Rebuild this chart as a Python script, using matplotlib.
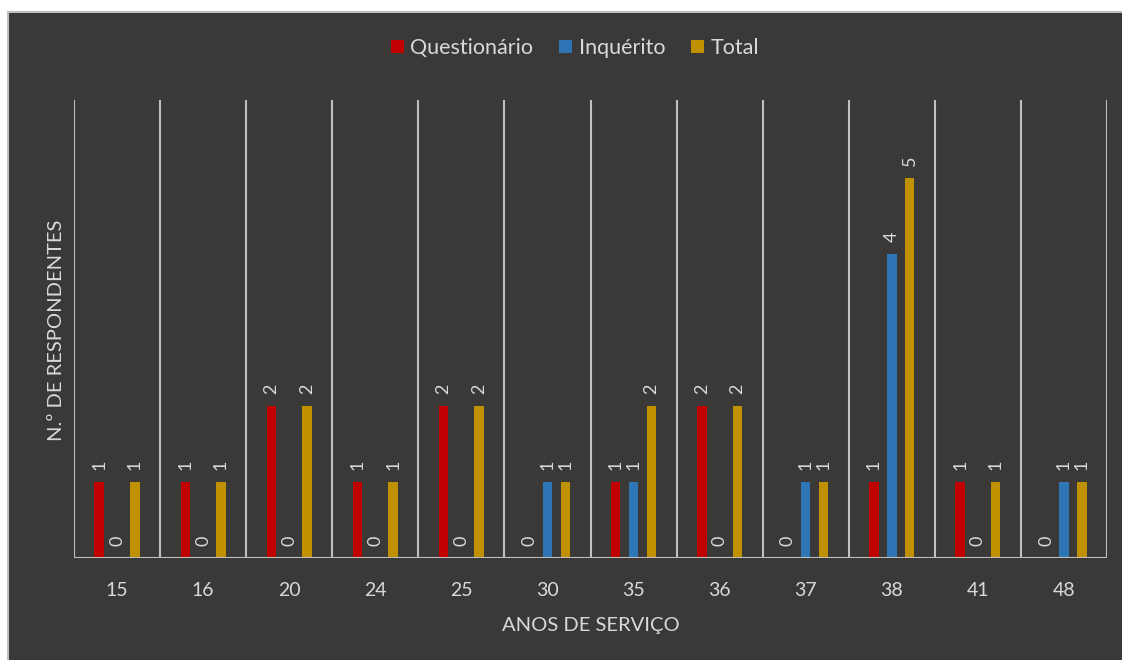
import matplotlib
matplotlib.use("Agg")
import matplotlib.pyplot as plt
import numpy as np
from matplotlib.patches import Rectangle
from matplotlib.lines import Line2D

years = ["15", "16", "20", "24", "25", "30", "35", "36", "37", "38", "41", "48"]
questionario = [1, 1, 2, 1, 2, 0, 1, 2, 0, 1, 1, 0]
inquerito = [0, 0, 0, 0, 0, 1, 1, 0, 1, 4, 0, 1]
total = [1, 1, 2, 1, 2, 1, 2, 2, 1, 5, 1, 1]
series_names = ["Questionário", "Inquérito", "Total"]
series_colors = ["#C00000", "#2E75B6", "#BF9000"]

BG = "#3A3938"
TXT = "#D9D9D9"
GRID = "#BFBFBF"
plt.rcParams["font.family"] = ["Lato", "DejaVu Sans"]

W, H = 1122, 660
fig = plt.figure(figsize=(W / 100, H / 100), dpi=100)
fig.patch.set_facecolor("white")
# dark chart panel, running off the right and bottom edges
x0, y1 = 8 / W, (H - 12) / H
fig.patches.append(Rectangle((x0, -0.05), 1.1, y1 + 0.05, transform=fig.transFigure,
                             facecolor=BG, edgecolor="none", zorder=-5))
fig.lines.append(Line2D([x0, x0, 1.0], [0, y1, y1], transform=fig.transFigure,
                        color="#BFBFBF", linewidth=1.5, zorder=-4))

ax = fig.add_axes([74 / W, (H - 558) / H, (1107 - 74) / W, (558 - 100) / H])
ax.set_zorder(2)
ax.set_facecolor(BG)
for s in ax.spines.values():
    s.set_visible(False)

x = np.arange(len(years))
offset = 0.207
width = 0.11
for i, (vals, name, col) in enumerate(zip([questionario, inquerito, total], series_names, series_colors)):
    xs = x + (i - 1) * offset
    ax.bar(xs, vals, width=width, color=col, label=name, zorder=3)
    for xi, v in zip(xs, vals):
        ax.annotate(str(v), (xi, v), xytext=(0, 9), textcoords="offset points",
                    rotation=90, ha="center", va="bottom", color=TXT, fontsize=13)

ax.set_xlim(-0.5, len(years) - 0.5)
ax.set_ylim(0, (558 - 100) / 76)
for b in np.arange(-0.5, len(years), 1.0):
    ax.axvline(b, color=GRID, linewidth=1.5, zorder=1)
ax.axhline(0, color=GRID, linewidth=1.5, zorder=4)

ax.set_yticks([])
ax.set_xticks(x)
ax.set_xticklabels(years, color=TXT, fontsize=14)
ax.tick_params(axis="x", length=0, pad=17)
ax.set_xlabel("ANOS DE SERVIÇO", color=TXT, fontsize=14.5, labelpad=13)

fig.text(57 / W, 1 - 330 / H, "N.º DE RESPONDENTES", rotation=90, color=TXT,
         fontsize=14.5, ha="center", va="center")

leg = fig.legend(loc="center", bbox_to_anchor=(575 / W, 1 - 48 / H), ncol=3, frameon=False,
                 fontsize=15.5, handlelength=0.6, handleheight=0.6, handletextpad=0.3,
                 columnspacing=1.2)
for t in leg.get_texts():
    t.set_color(TXT)

fig.savefig("out.png", dpi=100, facecolor=fig.get_facecolor())
